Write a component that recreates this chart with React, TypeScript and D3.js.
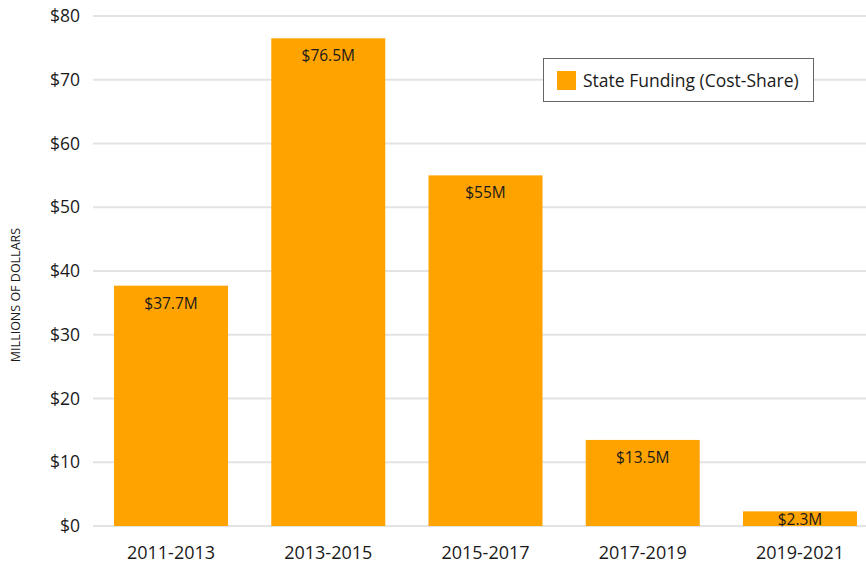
import React from "react";
import * as d3 from "d3";

const categories = ["2011-2013", "2013-2015", "2015-2017", "2017-2019", "2019-2021"];
const values = [37.7, 76.5, 55, 13.5, 2.3];
const valueLabels = ["$37.7M", "$76.5M", "$55M", "$13.5M", "$2.3M"];
const yTicks = [0, 10, 20, 30, 40, 50, 60, 70, 80];
const seriesName = "State Funding (Cost-Share)";

const W = 866;
const H = 570;
const FONT = "'Open Sans', 'Noto Sans', sans-serif";
const ORANGE = "#FFA300";

export default function App() {
  const y = d3.scaleLinear().domain([0, 80]).range([526, 16]);
  const x = d3
    .scaleBand<string>()
    .domain(categories)
    .range([95, 876])
    .paddingInner(0.275)
    .paddingOuter(0.121);

  return (
    <svg width={W} height={H} style={{ position: "absolute", left: 0, top: 0, fontFamily: FONT }}>
      <rect width={W} height={H} fill="#fff" />
      {yTicks.map((t) => (
        <g key={t}>
          <line x1={93} x2={W} y1={y(t)} y2={y(t)} stroke="#e3e3e3" strokeWidth={2} />
          <text x={80} y={y(t)} dy="0.35em" textAnchor="end" fontSize={17.5} fill="#1a1a1a">
            {`$${t}`}
          </text>
        </g>
      ))}
      <text
        transform={`translate(20,${295}) rotate(-90)`}
        textAnchor="middle"
        fontSize={12.5}
        fill="#1a1a1a"
      >
        MILLIONS OF DOLLARS
      </text>
      {categories.map((c, i) => {
        const x0 = x(c)!;
        const bw = x.bandwidth();
        return (
          <g key={c}>
            <rect x={x0} y={y(values[i])} width={bw} height={y(0) - y(values[i])} fill={ORANGE} />
            <text
              x={x0 + bw / 2}
              y={y(values[i]) + (values[i] < 5 ? 13.5 : 23)}
              textAnchor="middle"
              fontSize={15.5}
              fill="#1a1a1a"
            >
              {valueLabels[i]}
            </text>
            <text x={x0 + bw / 2} y={559} textAnchor="middle" fontSize={18} fill="#1a1a1a">
              {c}
            </text>
          </g>
        );
      })}
      <g>
        <rect x={543.5} y={58.5} width={270} height={43} fill="#fff" stroke="#666" strokeWidth={1} />
        <rect x={557} y={71} width={19} height={19} fill={ORANGE} />
        <text x={583} y={80.5} dy="0.35em" fontSize={17.5} fill="#1a1a1a">
          {seriesName}
        </text>
      </g>
    </svg>
  );
}
